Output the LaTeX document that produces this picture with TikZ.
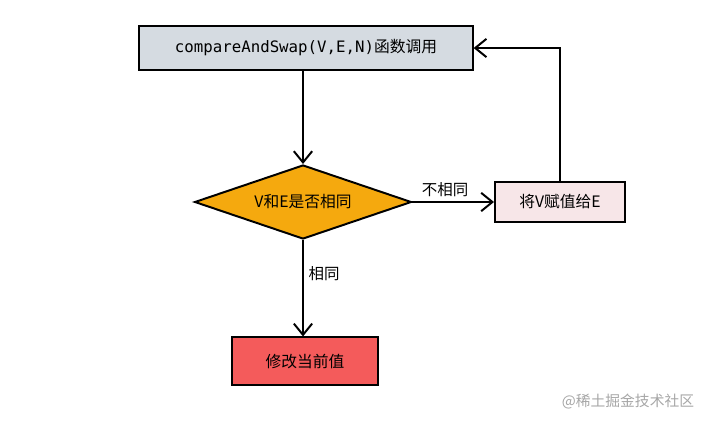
\documentclass[tikz,border=0pt]{standalone}
\usepackage{fontspec}
\setmainfont{Noto Sans CJK SC}
\newfontfamily\codefont{DejaVu Sans Mono}
\usetikzlibrary{arrows.meta,positioning,shapes.geometric}

\definecolor{callgray}{HTML}{D5DBE1}
\definecolor{testorange}{HTML}{F5A90E}
\definecolor{setpink}{HTML}{F7E6E8}
\definecolor{updred}{HTML}{F45B5B}

\begin{document}
\begin{tikzpicture}[x=0.025cm,y=-0.025cm,
  box/.style={draw,line width=1.4pt,rectangle,font=\fontsize{11.2}{13}\selectfont},
  test/.style={draw,line width=1.4pt,diamond,aspect=2.93,inner sep=0pt,font=\fontsize{11.2}{13}\selectfont},
  flow/.style={-{Straight Barb[length=8pt,width=13pt,line width=1.4pt]},line width=1.4pt},
  lbl/.style={font=\fontsize{11}{13}\selectfont}]
\useasboundingbox (0,0) rectangle (707,422);
\node[box,fill=callgray,minimum width=8.33cm,minimum height=1.08cm] (cas) at (306,48) {{\codefont compareAndSwap(V,E,N)}函数调用};
\node[test,fill=testorange,minimum width=5.42cm,minimum height=1.85cm] (cmp) at (303,202) {V和E是否相同};
\node[box,fill=setpink,minimum width=3.25cm,minimum height=0.98cm] (assign) at (560,202) {将V赋值给E};
\node[box,fill=updred,minimum width=3.63cm,minimum height=1.18cm] (upd) at (305,361) {修改当前值};
\node[font=\fontsize{10.5}{12}\selectfont,text=black!35] (mark) at (628,401) {@稀土掘金技术社区};
\draw[flow] (cas.south -| cmp.north) -- (cmp.north);
\draw[flow] (cmp.east) -- node[lbl,above,pos=0.4] {不相同} (assign.west);
\draw[flow] (assign.north) |- (cas.east);
\draw[flow] (cmp.south) -- node[lbl,right,pos=0.35] {相同} (cmp.south |- upd.north);
\end{tikzpicture}
\end{document}
